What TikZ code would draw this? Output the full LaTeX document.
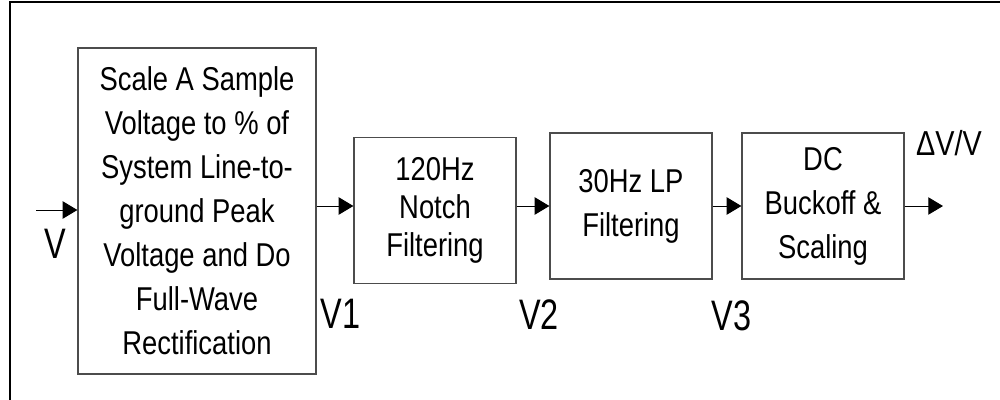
\documentclass[tikz,border=0pt]{standalone}
\usepackage{fontspec}
\setmainfont[FakeStretch=0.83]{Liberation Sans}
\newfontfamily\lblfont[FakeStretch=0.76]{Liberation Sans}
\usetikzlibrary{arrows.meta}

\tikzset{
  blk/.style={draw=black!70,line width=0.9pt,align=center,inner sep=0pt,
    font=\fontsize{24.75}{33}\selectfont},
  sig/.style={line width=0.75pt,-{Triangle[length=11pt,width=13pt]}},
  lbl/.style={font=\lblfont\fontsize{32}{36}\selectfont,inner sep=0pt}
}

\begin{document}
\begin{tikzpicture}[x=0.75pt,y=-0.75pt]
  % pixel grid of the 1000x400 frame, y downwards
  \useasboundingbox (0,0) rectangle (1000,400);
  \clip (0,0) rectangle (1000,400);
  \draw[line width=1.5pt] (10,2) rectangle (1010,410);
  \node[blk,minimum width=178.5pt,minimum height=244.5pt] (b1) at (197,211)
    {Scale A Sample\\Voltage to \% of\\System Line-to-\\ground Peak\\Voltage and Do\\Full-Wave\\Rectification};
  \node[blk,minimum width=121.5pt,minimum height=110pt,
    font=\fontsize{24.75}{28.5}\selectfont] (b2) at (435,210.5)
    {120Hz\\Notch\\Filtering};
  \node[blk,minimum width=121.5pt,minimum height=109.5pt] (b3) at (631,206)
    {30Hz LP\\Filtering};
  \node[blk,minimum width=121.5pt,minimum height=109.5pt] (b4) at (823,206)
    {DC\\Buckoff \&\\Scaling};
  \coordinate (vin) at (36,210);
  \coordinate (vout) at (943,206);
  \draw[sig] (vin) -- (vin -| b1.west);
  \draw[sig] (b1.east |- b3.east) -- (b2.west |- b3.east);
  \draw[sig] (b2.east |- b3.east) -- (b3.west);
  \draw[sig] (b3.east) -- (b4.west);
  \draw[sig] (b4.east) -- (vout);
  \node[lbl] (v) at (55.5,244) {V};
  \node[lbl] (v1) at (340.5,314) {V1};
  \node[lbl] (v2) at (539,314.5) {V2};
  \node[lbl] (v3) at (731.5,315.5) {V3};
  \node[blk,draw=none,font=\fontsize{26}{30}\selectfont] (dv) at (949,143.5) {ΔV/V};
\end{tikzpicture}
\end{document}
